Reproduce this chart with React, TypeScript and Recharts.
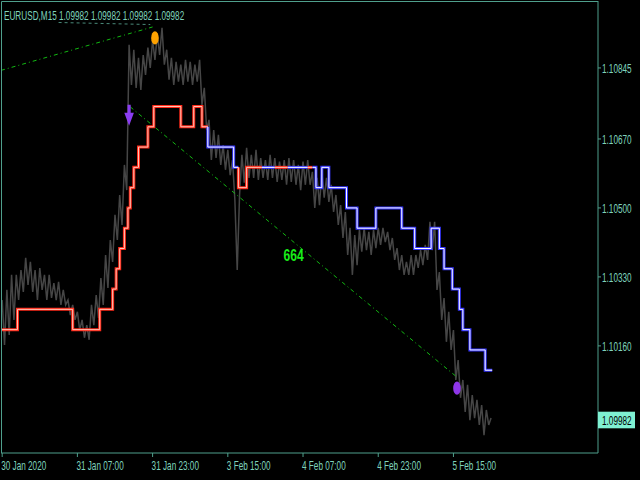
import React from 'react';
import { ComposedChart, Line, Scatter, XAxis, YAxis, ReferenceLine } from 'recharts';

// ----------------------------------------------------------------------

const W = 640;
const H = 480;
const FONT = '"Liberation Sans", Arial, sans-serif';
const SX = 0.63; // horizontal squeeze of the terminal font
const TEXT = '#7fd3bc';
const FRAME = '#4f9f8c';

const symbol = 'EURUSD,M15';
const ohlc = [1.09982, 1.09982, 1.09982, 1.09982];
const lastPrice = 1.09982;

// M15 bars, sampled every 2 bars (high / low alternating)
const sampleStep = 2;
const closeSeries = [
  1.10273, 1.10162, 1.10298, 1.10187, 1.10335, 1.10224, 1.10335, 1.10273, 1.10347, 1.10293,
  1.10377, 1.1031, 1.10367, 1.10293, 1.10347, 1.10273, 1.10352, 1.10298, 1.10335, 1.10273,
  1.10335, 1.10278, 1.10315, 1.10273, 1.10318, 1.10261, 1.10298, 1.10261, 1.10273, 1.10236,
  1.10261, 1.10224, 1.10244, 1.10199, 1.10224, 1.1018, 1.10211, 1.10175, 1.10261, 1.10211,
  1.10285, 1.10229, 1.10327, 1.10261, 1.10384, 1.10303, 1.10421, 1.10367, 1.10483, 1.10421,
  1.10532, 1.10458, 1.10606, 1.10544, 1.10902, 1.10803, 1.1089, 1.10796, 1.1087, 1.10791,
  1.10877, 1.10828, 1.10895, 1.10845, 1.10914, 1.10865, 1.10927, 1.10877, 1.10944, 1.10853,
  1.1089, 1.10816, 1.1087, 1.10803, 1.1086, 1.10811, 1.10853, 1.10803, 1.10865, 1.10811,
  1.1086, 1.10803, 1.10853, 1.10811, 1.10865, 1.10754, 1.10796, 1.10692, 1.10717, 1.10618,
  1.10692, 1.10623, 1.1068, 1.10606, 1.10655, 1.10594, 1.10643, 1.10581, 1.10618, 1.1052,
  1.10347, 1.10532, 1.10631, 1.10562, 1.10648, 1.10574, 1.10631, 1.10574, 1.10643, 1.10569,
  1.10623, 1.10574, 1.10618, 1.10569, 1.10631, 1.10574, 1.10623, 1.10564, 1.10614, 1.10569,
  1.10618, 1.10557, 1.10623, 1.10564, 1.10618, 1.10557, 1.10606, 1.10544, 1.10614, 1.10557,
  1.10618, 1.10557, 1.10589, 1.105, 1.10574, 1.10507, 1.10589, 1.10525, 1.10574, 1.10515,
  1.10557, 1.1049, 1.10532, 1.10458, 1.10507, 1.10426, 1.1049, 1.10384, 1.10451, 1.10335,
  1.10433, 1.10359, 1.10446, 1.10392, 1.10451, 1.10396, 1.10441, 1.10384, 1.10446, 1.10401,
  1.10451, 1.10409, 1.10451, 1.10416, 1.10441, 1.10396, 1.10426, 1.10372, 1.10401, 1.10347,
  1.10384, 1.10335, 1.10367, 1.10335, 1.10384, 1.10335, 1.10384, 1.10352, 1.10396, 1.10359,
  1.10409, 1.10372, 1.10466, 1.10396, 1.10466, 1.10298, 1.10342, 1.10224, 1.10278, 1.1017,
  1.10244, 1.1015, 1.10199, 1.10076, 1.10125, 1.10032, 1.10076, 1.09997, 1.10064, 1.09977,
  1.10039, 1.09982, 1.10027, 1.09965, 1.10014, 1.0994, 1.10002, 1.09965, 1.09982,
];

// step (trailing) level: bar where it changes, new level
const stepBars = [
  -1, 13, 60, 83, 94, 97, 100, 104, 107, 109, 112, 116, 124, 129, 152, 163, 170, 175, 197, 201,
  208, 267, 272, 278, 293, 302, 318, 340, 351, 365, 372, 376, 383, 389, 392, 398, 411,
];
const stepLevels = [
  1.102, 1.1025, 1.102, 1.1025, 1.103, 1.1035, 1.104, 1.1045, 1.105, 1.1055, 1.106, 1.1065, 1.107,
  1.1075, 1.107, 1.1075, 1.107, 1.1065, 1.106, 1.1055, 1.106, 1.1055, 1.106, 1.1055, 1.105, 1.1045,
  1.105, 1.1045, 1.104, 1.1045, 1.104, 1.1035, 1.103, 1.1025, 1.102, 1.1015, 1.101,
];
const stepEnd = 417;
const trendBreaks = [175, 201, 221, 232, 243, 260, 264];
const trendUp = [true, false, true, false, true, false, true, false];

const dateTicks = [0, 64, 128, 192, 256, 320, 384];
const dateLabels = [
  '30 Jan 2020',
  '31 Jan 07:00',
  '31 Jan 23:00',
  '3 Feb 15:00',
  '4 Feb 07:00',
  '4 Feb 23:00',
  '5 Feb 15:00',
];
const priceTicks = [1.10845, 1.1067, 1.105, 1.1033, 1.1016];

const upperTrend = [
  { x: -1, y: 1.10839 },
  { x: 128, y: 1.10946 },
];
const lowerTrend = [
  { x: 109, y: 1.10749 },
  { x: 387, y: 1.10083 },
];
const topDash = [
  { x: 48, y: 1.10957 },
  { x: 126, y: 1.10952 },
];
const orangeDot = [{ x: 130, y: 1.10919 }];
const purpleDot = [{ x: 387, y: 1.10056 }];
const sellArrow = [{ x: 108, y: 1.10754 }];
const distanceLabel = [{ x: 248, y: 1.10385, text: '664' }];

// ----------------------------------------------------------------------

const priceData = closeSeries.map((y, i) => ({ x: i * sampleStep, y }));

const levelAt = (bar: number, strict: boolean) => {
  let v = stepLevels[0];
  stepBars.forEach((b, i) => {
    if (strict ? b < bar : b <= bar) v = stepLevels[i];
  });
  return v;
};

const bounds = [stepBars[0], ...trendBreaks, stepEnd];
const stepSegments = bounds.slice(0, -1).map((start, i) => {
  const end = bounds[i + 1];
  const pts = [{ x: start, y: levelAt(start, true) }];
  stepBars.forEach((b, j) => {
    if (b >= start && b < end) pts.push({ x: b, y: stepLevels[j] });
  });
  pts.push({ x: end, y: levelAt(end, true) });
  return { up: trendUp[i], pts };
});

// ----------------------------------------------------------------------

function PriceTick(props: any) {
  const { x, y, payload } = props;
  const v = payload.value;
  const label = v.toFixed(5);
  if (v === lastPrice) {
    return (
      <g>
        <rect x={x - 4} y={y - 6.4} width={37} height={16.6} fill="#7ff0d2" />
        <text transform={`translate(${x},${y + 7}) scale(${SX},1)`} fontFamily={FONT} fontSize={13} fill="#000">
          {label}
        </text>
      </g>
    );
  }
  return (
    <text transform={`translate(${x},${y + 4.7}) scale(${SX},1)`} fontFamily={FONT} fontSize={13} fill={TEXT}>
      {label}
    </text>
  );
}

function DateTick(props: any) {
  const { x, payload } = props;
  const label = dateLabels[dateTicks.indexOf(payload.value)];
  return (
    <text transform={`translate(${x - 1},470) scale(${SX},1)`} fontFamily={FONT} fontSize={13} fill={TEXT}>
      {label}
    </text>
  );
}

const ellipse = (color: string) => (p: any) => <ellipse cx={p.cx} cy={p.cy} rx={3.8} ry={6.6} fill={color} />;

const arrowDown = (p: any) => (
  <path d={`M${p.cx - 1.6},${p.cy} h3.2 v8 h3.2 l-4.8,13 l-4.8,-13 h3.2 z`} fill="#8b3df2" />
);

const labelText = (p: any) => (
  <text
    transform={`translate(${p.cx},${p.cy + 6}) scale(0.71,1)`}
    textAnchor="middle"
    fontFamily={FONT}
    fontWeight="bold"
    fontSize={17}
    fill="#19ee19"
  >
    {p.payload.text}
  </text>
);

// ----------------------------------------------------------------------

export default function App() {
  const title = `${symbol}  ${ohlc.map((v) => v.toFixed(5)).join(' ')}`;
  return (
    <div style={{ position: 'absolute', left: 0, top: 0, width: W, height: H, background: '#000' }}>
      <ComposedChart width={W} height={H} margin={{ top: 1, right: 0, bottom: 0, left: 1 }}>
        <XAxis
          type="number"
          dataKey="x"
          domain={[-1, 507]}
          allowDataOverflow
          ticks={dateTicks}
          interval={0}
          height={27}
          tickSize={4}
          tickMargin={2}
          stroke={FRAME}
          tick={<DateTick />}
        />
        <YAxis
          type="number"
          dataKey="y"
          orientation="right"
          domain={[1.09896, 1.1101]}
          allowDataOverflow
          ticks={[...priceTicks, lastPrice]}
          interval={0}
          width={42}
          tickSize={3}
          tickMargin={1}
          stroke={FRAME}
          tick={<PriceTick />}
        />

        <Line
          data={priceData}
          dataKey="y"
          type="linear"
          stroke="#464646"
          strokeWidth={1.5}
          dot={false}
          isAnimationActive={false}
        />

        <ReferenceLine segment={topDash} stroke="#4a8a7a" strokeDasharray="3 3" ifOverflow="visible" />
        <ReferenceLine segment={upperTrend} stroke="#12b812" strokeDasharray="4 3 1 3" ifOverflow="visible" />
        <ReferenceLine segment={lowerTrend} stroke="#12b812" strokeDasharray="4 3 1 3" ifOverflow="visible" />

        {stepSegments.map((s, i) => (
          <Line
            key={`s${i}`}
            data={s.pts}
            dataKey="y"
            type="stepAfter"
            stroke={s.up ? '#ff2a1a' : '#3636ff'}
            strokeWidth={3}
            dot={false}
            isAnimationActive={false}
          />
        ))}
        {stepSegments.map((s, i) => (
          <Line
            key={`c${i}`}
            data={s.pts}
            dataKey="y"
            type="stepAfter"
            stroke={s.up ? '#ffc8b8' : '#ffffff'}
            strokeWidth={1}
            dot={false}
            isAnimationActive={false}
          />
        ))}

        <Scatter data={orangeDot} dataKey="y" shape={ellipse('#ffa200')} isAnimationActive={false} />
        <Scatter data={purpleDot} dataKey="y" shape={ellipse('#8e36e8')} isAnimationActive={false} />
        <Scatter data={sellArrow} dataKey="y" shape={arrowDown} isAnimationActive={false} />
        <Scatter data={distanceLabel} dataKey="y" shape={labelText} isAnimationActive={false} />
      </ComposedChart>

      <svg width={W} height={H} style={{ position: 'absolute', left: 0, top: 0, pointerEvents: 'none' }}>
        <line x1={1.5} y1={1.5} x2={598} y2={1.5} stroke={FRAME} />
        <line x1={1.5} y1={1.5} x2={1.5} y2={453} stroke={FRAME} />
        <text transform={`translate(4,20) scale(${SX},1)`} fontFamily={FONT} fontSize={13} fill={TEXT}>
          {title}
        </text>
      </svg>
    </div>
  );
}
